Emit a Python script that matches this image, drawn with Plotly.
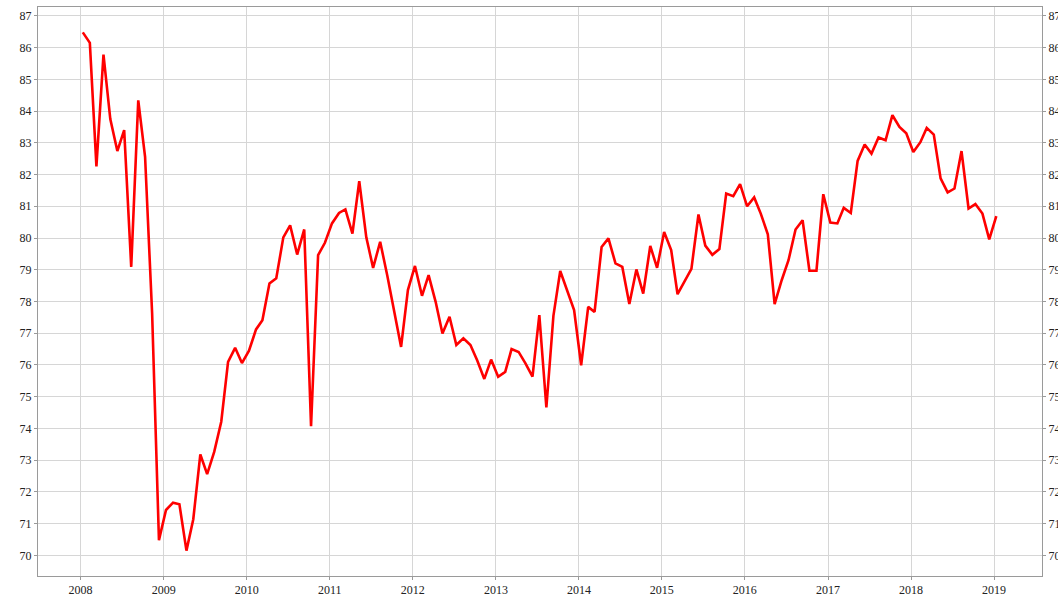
import pandas as pd
import plotly.graph_objects as go

start_month = "2008-01"
n_months = 133

values = [
    # 2008
    86.48, 86.15, 82.26, 85.78, 83.75, 82.74, 83.40, 79.09, 84.34, 82.56, 77.62, 70.48,
    # 2009
    71.43, 71.66, 71.61, 70.15, 71.14, 73.18, 72.56, 73.26, 74.21, 76.10, 76.54, 76.06,
    # 2010
    76.45, 77.12, 77.41, 78.57, 78.73, 80.02, 80.40, 79.48, 80.27, 74.07, 79.46, 79.85,
    # 2011
    80.46, 80.79, 80.90, 80.14, 81.79, 80.02, 79.06, 79.88, 78.83, 77.67, 76.57, 78.36,
    # 2012
    79.12, 78.18, 78.83, 77.99, 76.99, 77.52, 76.63, 76.84, 76.63, 76.14, 75.56, 76.17,
    # 2013
    75.63, 75.78, 76.50, 76.41, 76.05, 75.63, 77.57, 74.66, 77.55, 78.96, 78.36, 77.73,
    # 2014
    75.99, 77.83, 77.67, 79.72, 79.99, 79.20, 79.09, 77.92, 79.01, 78.25, 79.75, 79.06,
    # 2015
    80.19, 79.62, 78.23, 78.65, 79.03, 80.74, 79.76, 79.47, 79.65, 81.40, 81.32, 81.70,
    # 2016
    81.00, 81.28, 80.77, 80.12, 77.92, 78.67, 79.30, 80.27, 80.56, 78.97, 78.97, 81.38,
    # 2017
    80.49, 80.46, 80.95, 80.79, 82.43, 82.95, 82.66, 83.17, 83.08, 83.87, 83.50, 83.30,
    # 2018
    82.71, 83.02, 83.47, 83.26, 81.88, 81.44, 81.56, 82.74, 80.93, 81.07, 80.77, 79.96,
    # 2019
    80.69,
]

dates = pd.date_range(start_month + "-01", periods=n_months, freq="MS") + pd.Timedelta(days=10)

year_ticks = [f"{y}-01-01" for y in range(2008, 2020)]
year_labels = [str(y) for y in range(2008, 2020)]
y_ticks = list(range(70, 88))

font = dict(family="Liberation Serif, Times New Roman, serif", size=12, color="#222222")
spine = "#9a9a9a"
grid = "#d6d6d6"

fig = go.Figure()
fig.add_trace(go.Scatter(x=dates, y=values, mode="lines",
                         line=dict(color="#ff0000", width=2.6), showlegend=False))
# mirror trace for the right-hand axis labels
fig.add_trace(go.Scatter(x=dates, y=values, mode="lines", yaxis="y2",
                         line=dict(color="rgba(0,0,0,0)", width=0),
                         hoverinfo="skip", showlegend=False))

yrange = [69.35, 87.28]

fig.update_layout(
    width=1058, height=596,
    margin=dict(l=38, r=16, t=7, b=20, autoexpand=False),
    paper_bgcolor="white", plot_bgcolor="white",
    font=font,
    xaxis=dict(
        range=["2007-06-28", "2019-07-31"], type="date",
        tickvals=year_ticks, ticktext=year_labels,
        showgrid=True, gridcolor=grid, gridwidth=1,
        showline=True, linecolor=spine, linewidth=1, mirror=True,
        ticks="outside", ticklen=3, tickcolor=spine,
        zeroline=False, tickfont=font, automargin=False,
    ),
    yaxis=dict(
        range=yrange, tickvals=y_ticks,
        showgrid=True, gridcolor=grid, gridwidth=1,
        showline=True, linecolor=spine, linewidth=1, mirror=True,
        ticks="outside", ticklen=3, tickcolor=spine,
        zeroline=False, tickfont=font, automargin=False,
    ),
    yaxis2=dict(
        range=yrange, tickvals=y_ticks, overlaying="y", side="right",
        showgrid=False, showline=False, zeroline=False,
        ticks="outside", ticklen=3, tickcolor=spine,
        tickfont=font, automargin=False,
    ),
)

fig.write_html("out.html",
               config={"displayModeBar": False},
               post_script="document.body.style.margin='0';document.body.style.overflow='hidden';")
